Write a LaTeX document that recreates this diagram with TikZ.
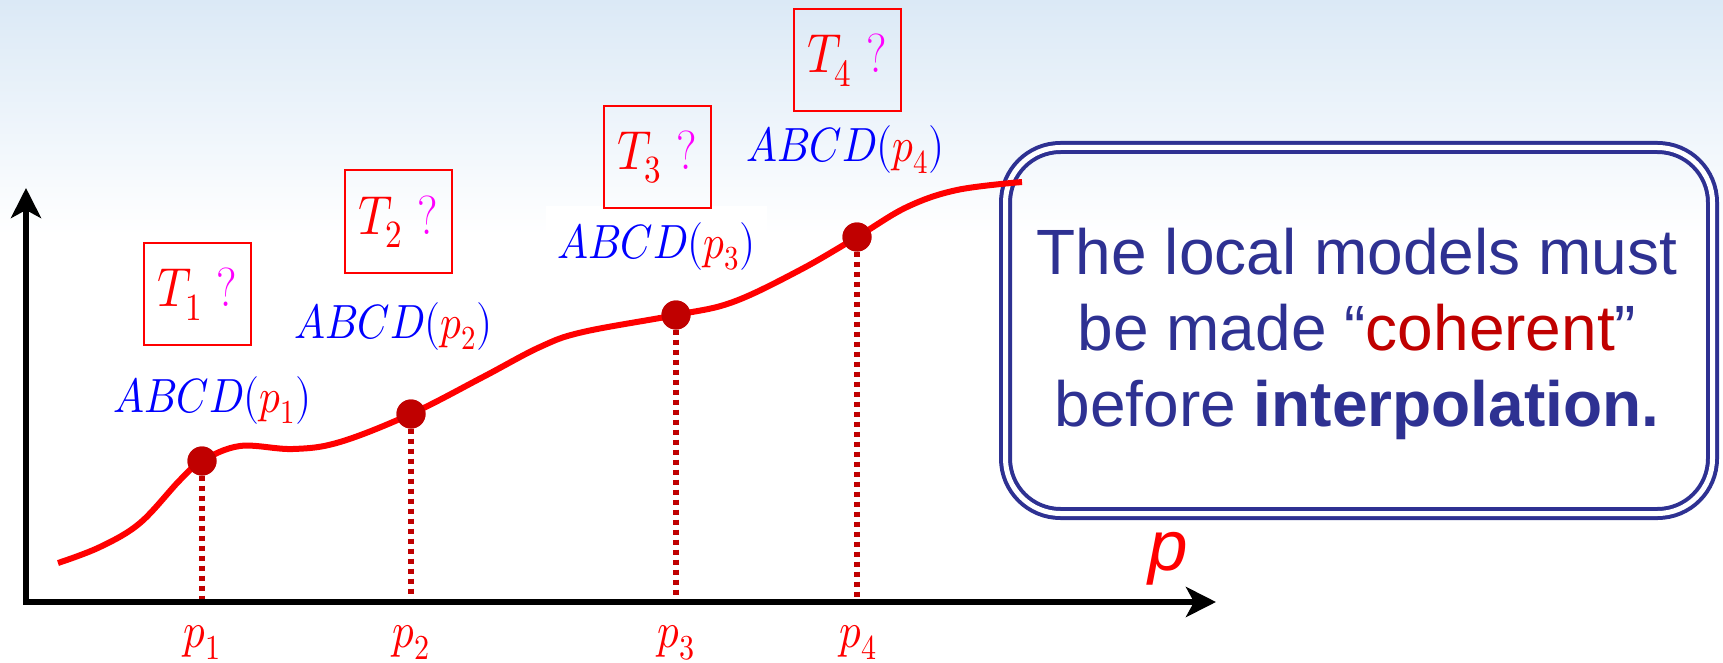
\documentclass[tikz,border=0pt]{standalone}
\usepackage{fontspec}
\usepackage{unicode-math}
\setmathfont{Latin Modern Math}
\newfontfamily\arialf{Liberation Sans}
\usetikzlibrary{arrows.meta}
\definecolor{navy}{RGB}{46,49,146}
\definecolor{dred}{RGB}{192,0,0}
\definecolor{bgtop}{RGB}{219,233,246}
\definecolor{pureblue}{RGB}{0,0,255}
\definecolor{purered}{RGB}{255,0,0}
\definecolor{mag}{RGB}{255,0,255}
\newcommand\sq[1]{\scalebox{0.86}[1]{#1}}
\newcommand\abcdp[1]{$\textcolor{pureblue}{ABCD(}\textcolor{purered}{p_{#1}}\textcolor{pureblue}{)}$}
\newcommand\tq[1]{$\textcolor{purered}{T_{#1}}$~\textcolor{mag}{?}}
\begin{document}
\begin{tikzpicture}[x=1pt,y=-1pt,
  axis/.style={line width=6pt, arrows={Stealth[length=30pt,width=30pt,inset=8pt]-Stealth[length=30pt,width=30pt,inset=8pt]}},
  curve/.style={draw=purered, line width=6pt},
  dot/.style={circle, fill=dred, inner sep=0pt, minimum size=29pt},
  drop/.style={draw=dred, line width=5.5pt, dash pattern=on 5pt off 5pt},
  tbox/.style={draw=purered, line width=2pt, minimum width=107pt, minimum height=102pt, inner sep=0pt, font=\fontsize{55pt}{66pt}\selectfont},
  abcd/.style={anchor=base, inner sep=0pt, font=\fontsize{48pt}{58pt}\selectfont},
  plab/.style={anchor=base, inner sep=0pt, font=\fontsize{50pt}{60pt}\selectfont, text=purered},
  msgbox/.style={draw=navy, double=white, line width=4pt, double distance=5pt, rounded corners=55pt, minimum width=707pt, minimum height=366pt, inner sep=0pt},
  msg/.style={align=center, text=navy, inner sep=0pt, font=\arialf\fontsize{64pt}{76pt}\selectfont}
]
\useasboundingbox (0,0) rectangle (1723,663);
\fill[white] (0,0) rectangle (1723,663);
\shade[top color=bgtop, bottom color=white] (0,0) rectangle (1723,235);

% message box
\node[msgbox] (box) at (1359,330.5) {};
\node[msg] (msgtext) at (1357,334) {The local models must\\be made \char"201C\textcolor{dred}{coherent}\char"201D\\before \textbf{interpolation.}};

% white patch behind ABCD(p3)
\node[abcd, fill=white, inner xsep=12pt, inner ysep=16pt] (a3) at (656.5,258) {\sq{\abcdp{3}}};

% axes
\coordinate (o) at (26,602);
\coordinate (ytip) at (26,188);
\coordinate (xtip) at (1216,602);

% dots
\node[dot] (d1) at (202,461) {};
\node[dot] (d2) at (411,414) {};
\node[dot] (d3) at (676,315) {};
\node[dot] (d4) at (857,237) {};

\draw[drop] (d1) -- (d1 |- o);
\draw[drop] (d2) -- (d2 |- o);
\draw[drop] (d3) -- (d3 |- o);
\draw[drop] (d4) -- (d4 |- o);

\draw[axis] (ytip) -- (o) -- (xtip);

\draw[curve] plot[smooth, tension=0.6] coordinates {(58,563) (100,547) (140,523) (180,480) (202,461) (240,446) (293,449) (340,442) (411,414) (483,377) (540,347) (583,332) (676,315) (733,302) (800,270) (857,237) (907,207) (957,190) (1022,182)};

\node[dot] at (d1) {};
\node[dot] at (d2) {};
\node[dot] at (d3) {};
\node[dot] at (d4) {};

% labels
\node[abcd] (a1) at (212.5,412) {\sq{\abcdp{1}}};
\node[abcd] (a2) at (393.5,338) {\sq{\abcdp{2}}};
\node[abcd] (a4) at (845.5,162) {\sq{\abcdp{4}}};

\node[tbox] (t1) at (197.5,294) {\sq{\tq{1}}};
\node[tbox] (t2) at (398,221.5) {\sq{\tq{2}}};
\node[tbox] (t3) at (657,157) {\sq{\tq{3}}};
\node[tbox] (t4) at (847,60) {\sq{\tq{4}}};

\node[plab] (p1) at (202,647) {\sq{$p_1$}};
\node[plab] (p2) at (411,647) {\sq{$p_2$}};
\node[plab] (p3) at (676,647) {\sq{$p_3$}};
\node[plab] (p4) at (858,647) {\sq{$p_4$}};

\node[anchor=base, inner sep=0pt, text=purered, font=\arialf\itshape\fontsize{71pt}{80pt}\selectfont] (pax) at (1168,570) {p};
\end{tikzpicture}
\end{document}
